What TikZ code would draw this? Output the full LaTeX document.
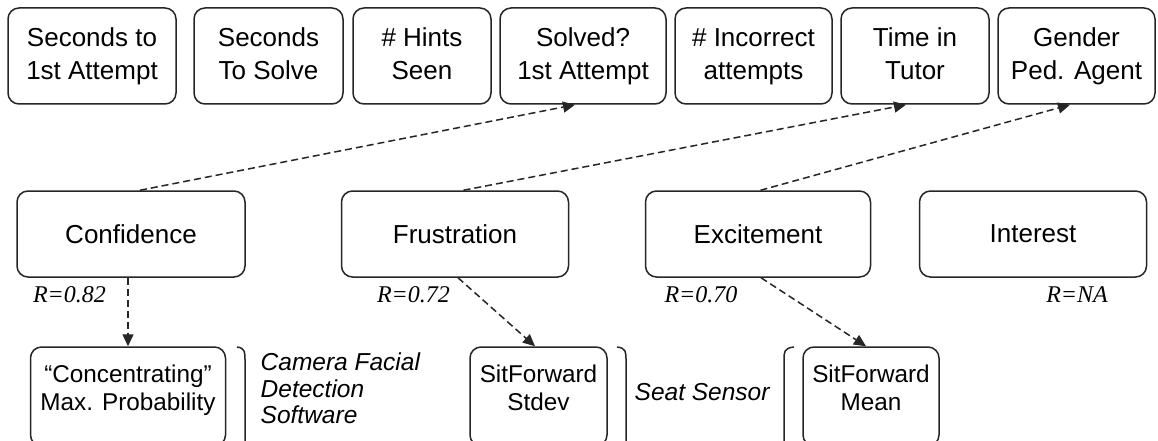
\documentclass[tikz,border=0pt]{standalone}
\usepackage{fontspec}
\setmainfont{Liberation Sans}
\newfontfamily\rfont{Liberation Serif}
\usetikzlibrary{arrows.meta}
\newcommand\tst{\rule[-7.5pt]{0pt}{29.5pt}}
\newcommand\bst{\rule[-6pt]{0pt}{26pt}}
\begin{document}
\begin{tikzpicture}[x=1pt,y=-1pt,
  box/.style={draw=black!85, line width=1.5pt, rounded corners=11pt, align=center, inner sep=0pt},
  tbox/.style={box, minimum height=96pt, font=\fontsize{26}{32.5}\selectfont},
  mbox/.style={box, minimum height=86pt, minimum width=227pt, font=\fontsize{26}{32}\selectfont},
  bbox/.style={box, minimum height=99pt},
  btext/.style={align=center, inner sep=0pt, anchor=north, font=\fontsize{24.3}{28.5}\selectfont},
  side/.style={align=left, inner sep=0pt, font=\fontsize{24.5}{26.5}\selectfont\itshape},
  rlab/.style={inner sep=0pt, anchor=base, font=\rfont\itshape\fontsize{24}{28}\selectfont},
  conn/.style={draw=black!85, line width=1.5pt, dash pattern=on 7pt off 4pt, -{Triangle[length=12pt,width=11pt]}},
  brk/.style={draw=black!85, line width=1.5pt}]
\useasboundingbox (0,0) rectangle (1158,441);
\fill[white] (0,0) rectangle (1158,441);
\clip (0,0) rectangle (1158,441);

% top row
\node[tbox, minimum width=168pt] (t1) at (92,56) {\tst Seconds to\\\tst 1st Attempt};
\node[tbox, minimum width=149pt] (t2) at (268.5,56) {\tst Seconds\\\tst To Solve};
\node[tbox, minimum width=138pt] (t3) at (422,56) {\tst \# Hints\\\tst Seen};
\node[tbox, minimum width=166pt] (t4) at (583,56) {\tst Solved?\\\tst 1st Attempt};
\node[tbox, minimum width=157pt] (t5) at (753.5,56) {\tst \# Incorrect\\\tst attempts};
\node[tbox, minimum width=148pt] (t6) at (915,56) {\tst Time in\\\tst Tutor};
\node[tbox, minimum width=157pt] (t7) at (1076.5,56) {\tst Gender\\\tst Ped. Agent};

% middle row
\node[mbox, minimum width=228pt] (conf) at (131,234) {Confidence};
\node[mbox] (frus) at (455,234) {Frustration};
\node[mbox, minimum width=225pt] (exc) at (758,234) {Excitement};
\node[mbox] (intr) at (1033,234) {Interest};

% R labels
\node[rlab] (r1) at (69.5,302) {R=0.82};
\node[rlab] (r2) at (413.5,302) {R=0.72};
\node[rlab] (r3) at (701,302) {R=0.70};
\node[rlab] (r4) at (1077,302) {R=NA};

% bottom row
\node[bbox, minimum width=195pt] (conc) at (128,396.5) {};
\node[btext] (conct) at (128,362) {\bst “Concentrating”\\\bst Max. Probability};
\node[bbox, minimum width=137pt] (std) at (538.5,396.5) {};
\node[btext] (stdt) at (538.5,362) {\bst SitForward\\\bst Stdev};
\node[bbox, minimum width=136pt] (mean) at (871,396.5) {};
\node[btext] (meant) at (871,362) {\bst SitForward\\\bst Mean};

% side labels and brackets
\node[side, anchor=west] (cam) at (260.5,388.5) {Camera Facial\\Detection\\Software};
\node[side, anchor=west] (seat) at (634.5,392) {Seat Sensor};
\draw[brk] (237,347) .. controls (245,348) and (245,352) .. (245,360) -- (245,460);
\draw[brk] (617,347) .. controls (626,348) and (626,352) .. (626,360) -- (626,460);
\draw[brk] (794,347) .. controls (784,348) and (784,352) .. (784,360) -- (784,460);

% connectors
\draw[conn] ([xshift=9pt]conf.north) -- ([xshift=-8pt]t4.south);
\draw[conn] ([xshift=8.5pt]frus.north) -- ([xshift=-9pt]t6.south);
\draw[conn] ([xshift=2.5pt]exc.north) -- ([xshift=-6.5pt]t7.south);
\draw[conn] ([xshift=-3pt]conf.south) -- (conc.north);
\draw[conn] ([xshift=3pt]frus.south) -- ([xshift=-3.5pt]std.north);
\draw[conn] ([xshift=3pt]exc.south) -- ([xshift=-5pt]mean.north);
\end{tikzpicture}
\end{document}
